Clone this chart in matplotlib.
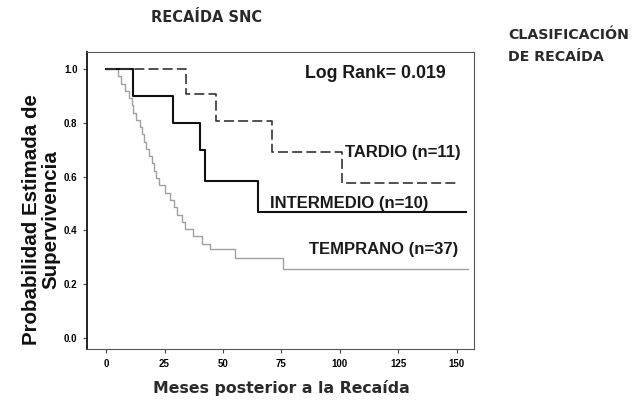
import matplotlib.pyplot as plt

# Kaplan-Meier steps (months, survival)
tardio_t = [0, 34, 47, 71, 101, 150]
tardio_s = [1.0, 0.909, 0.808, 0.693, 0.577, 0.577]

inter_t = [0, 11.5, 28.7, 40, 42.3, 65, 154]
inter_s = [1.0, 0.90, 0.80, 0.70, 0.583, 0.467, 0.467]

temp_t = [0, 5, 6.5, 8, 10, 11, 11.5, 13, 14.5, 15.5, 16.2, 17, 18.4, 19.5,
          20.5, 21.5, 22.6, 25.2, 27.4, 29, 30.3, 32.5, 33.8, 37.2, 41, 44.4,
          55, 75.6, 155]
temp_s = [1.0, 0.973, 0.946, 0.919, 0.892, 0.865, 0.838, 0.811, 0.784, 0.757,
          0.730, 0.703, 0.676, 0.649, 0.622, 0.595, 0.568, 0.541, 0.514, 0.486,
          0.459, 0.432, 0.405, 0.378, 0.351, 0.330, 0.297, 0.257, 0.257]

xticks = [0, 25, 50, 75, 100, 125, 150]
yticks = [0.0, 0.2, 0.4, 0.6, 0.8, 1.0]

narrow = ["Liberation Sans Narrow", "Liberation Sans", "DejaVu Sans"]
arial = ["Liberation Sans", "DejaVu Sans"]
gothic = ["DejaVu Sans"]

fig = plt.figure(figsize=(6.36, 4.11), dpi=100)
ax = fig.add_axes([0.137, 0.151, 0.608, 0.722])

ax.step(temp_t, temp_s, where="post", color="#a0a0a0", linewidth=1.0)
ax.step(inter_t, inter_s, where="post", color="#111111", linewidth=1.5)
ax.step(tardio_t, tardio_s, where="post", color="#333333", linewidth=1.2,
        linestyle=(0, (6, 2.5)))

ax.set_xlim(-8.1, 157.3)
ax.set_ylim(-0.041, 1.063)
ax.set_xticks(xticks)
ax.set_yticks(yticks)
ax.set_xticklabels([str(v) for v in xticks], fontsize=7, fontweight="bold",
                   family=narrow)
ax.set_yticklabels([f"{v:.1f}" for v in yticks], fontsize=7,
                   fontweight="bold", family=narrow)
ax.tick_params(axis="both", length=3, width=0.8, color="#444444", pad=4)
for s in ax.spines.values():
    s.set_linewidth(0.8)
    s.set_color("#555555")
ax.spines["left"].set_linewidth(1.3)
ax.spines["left"].set_color("#111111")

# Anotaciones
lbl = dict(fontsize=12, fontweight="bold", family=arial, color="#1a1a1a")
ax.text(115, 0.985, "Log Rank= 0.019", ha="center", va="center",
        **dict(lbl, fontsize=12.8))
ax.text(102, 0.69, "TARDIO (n=11)", ha="left", va="center", **lbl)
ax.text(70, 0.50, "INTERMEDIO (n=10)", ha="left", va="center", **lbl)
ax.text(87, 0.33, "TEMPRANO (n=37)", ha="left", va="center", **lbl)

# Titulos
fig.text(207 / 636, 1 - 18 / 411, "RECAÍDA SNC", ha="center", va="center",
         fontsize=10.5, fontweight="bold", family=gothic, color="#2a2a2a")
fig.text(508 / 636, 1 - 35 / 411, "CLASIFICACIÓN", ha="left", va="center",
         fontsize=10.2, fontweight="bold", family=gothic, color="#2a2a2a")
fig.text(508 / 636, 1 - 57 / 411, "DE RECAÍDA", ha="left", va="center",
         fontsize=10.2, fontweight="bold", family=gothic, color="#2a2a2a")
fig.text(281 / 636, 1 - 388 / 411, "Meses posterior a la Recaída",
         ha="center", va="center", fontsize=11.3, fontweight="bold",
         family=gothic, color="#2a2a2a")

fig.text(41 / 636, 1 - 220 / 411, "Probabilidad Estimada de\nSupervivencia",
         ha="center", va="center", rotation=90, fontsize=14.8,
         fontweight="bold", family=narrow, linespacing=1.0, color="#111111")

fig.savefig("out.png", dpi=100)
